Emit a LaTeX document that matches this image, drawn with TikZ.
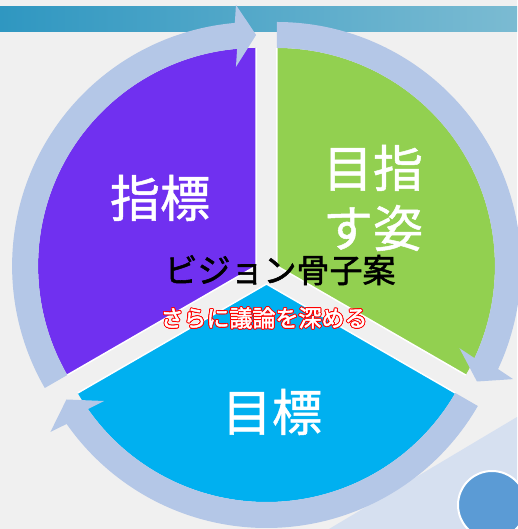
\documentclass[tikz,border=0pt]{standalone}
\usepackage{fontspec}
\newfontfamily\jp{Noto Sans CJK JP}[FakeBold=1]
\newfontfamily\jpt{Noto Sans CJK JP}[FakeBold=1.6]
\newfontfamily\jps{Noto Sans CJK JP}[FakeBold=2]
\usetikzlibrary{calc}
\definecolor{bg}{HTML}{F0F0F0}
\definecolor{purp}{HTML}{7030F0}
\definecolor{grn}{HTML}{92D050}
\definecolor{blu}{HTML}{00B0F0}
\definecolor{ringc}{HTML}{B4C7E7}
\definecolor{pale}{HTML}{D6E0F0}
\definecolor{dotc}{HTML}{5B9BD5}
\definecolor{barL}{HTML}{2F97C1}
\definecolor{barR}{HTML}{7BBBD2}
\newcommand\ringarrow[4]{%
  \fill[ringc] ($(#1)+(#2:244)$) arc[start angle=#2,end angle=#4,radius=244pt]
    -- ($(#1)+(#4:231)+(#3:31)$) -- ($(#1)+(#3:231)$)
    -- ($(#1)+(#4:231)+(#3+180:31)$) -- ($(#1)+(#4:218)$)
    arc[start angle=#4,end angle=#2,radius=218pt] -- cycle;}
\newcommand\sectorfill[4]{%
  \fill[#4] (#1) -- ($(#1)+(#2:218)$) arc[start angle=#2,end angle=#3,radius=218pt] -- cycle;
  \draw[white,line width=1.5pt] ($(#1)+(#2:218)$) -- (#1) -- ($(#1)+(#3:218)$);}
\begin{document}
\begin{tikzpicture}[x=1pt,y=1pt,
  big/.style={text=white,font=\jp\fontsize{50}{60}\selectfont,align=center,inner sep=0pt},
  subtxt/.style={font=\jps\fontsize{23}{23}\selectfont,inner sep=0pt}]
\fill[bg] (0,0) rectangle (517,529);
\useasboundingbox (0,0) rectangle (517,529);
\shade[left color=barL,right color=barR] (0,497.3) rectangle (517,522.3);
\fill[pale] (329,0) -- (517,112) -- (517,0) -- cycle;
\coordinate (P) at (256.1,263);
\coordinate (G) at (276.9,263);
\coordinate (B) at (266.5,245);
\sectorfill{P}{90}{210}{purp}
\sectorfill{G}{-30}{90}{grn}
\sectorfill{B}{210}{330}{blu}
\ringarrow{P}{210}{90}{95}
\ringarrow{G}{90}{-30}{-25}
\ringarrow{B}{330}{210}{215}
\fill[dotc,draw=white,line width=2pt] (492,24) circle[radius=34pt];
\node[big] (t1) at (160,331) {指標};
\node[big] (t2) at (373,331) {目指\\す姿};
\node[big] (t3) at (272,117) {目標};
\node[font=\jpt\fontsize{33}{33}\selectfont,text=black,inner sep=0pt] (title) at (280,259) {ビジョン骨子案};
\foreach \a in {0,30,...,330}{
  \node[subtxt,text=red] at ($(264,211)+(\a:0.9)$) {さらに議論を深める};}
\node[subtxt,text=white] (sub) at (264,211) {さらに議論を深める};
\end{tikzpicture}
\end{document}
